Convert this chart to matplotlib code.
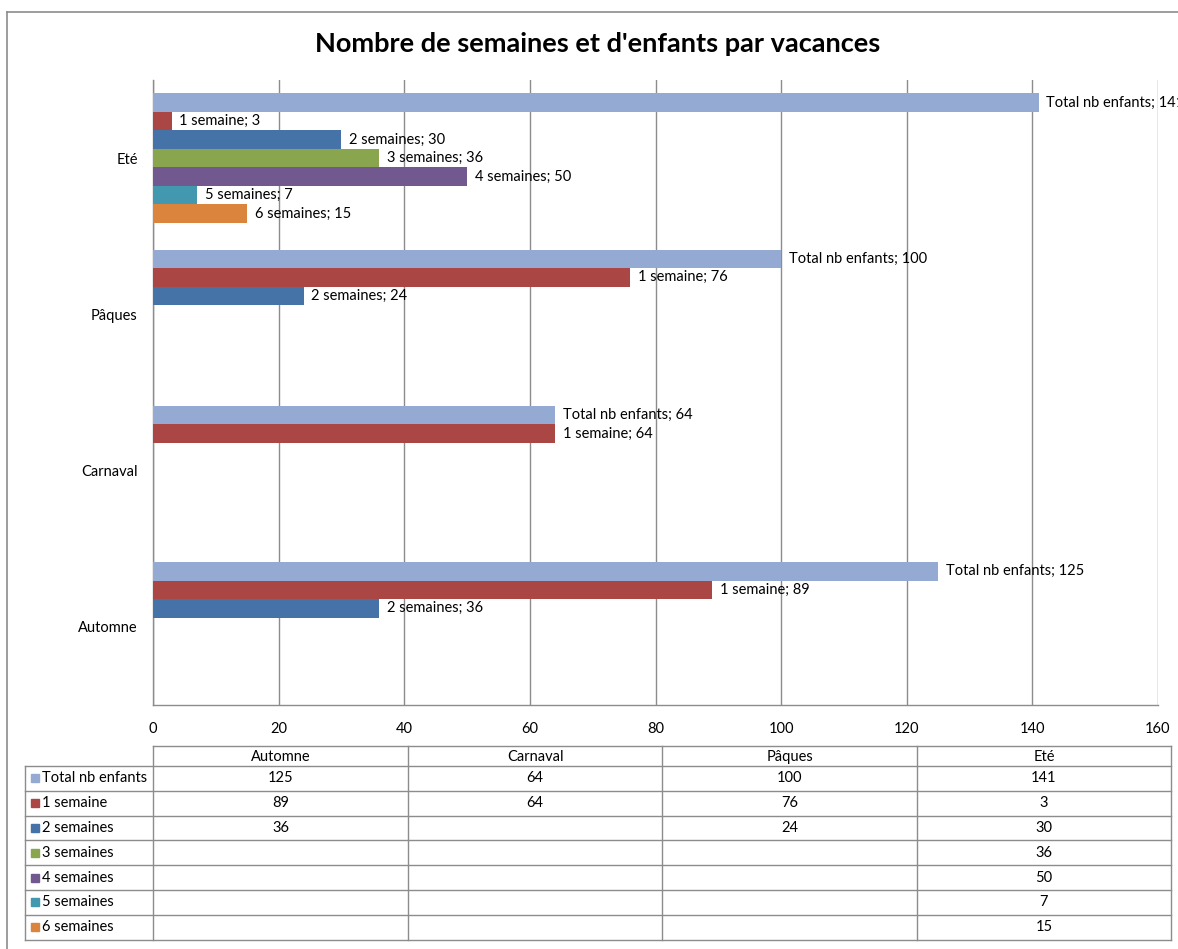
import numpy as np
import matplotlib
matplotlib.use("Agg")
import matplotlib.pyplot as plt
from matplotlib.lines import Line2D
from matplotlib.patches import Rectangle

plt.rcParams['font.family'] = ['Lato', 'DejaVu Sans']

title = "Nombre de semaines et d'enfants par vacances"
categories = ["Automne", "Carnaval", "Pâques", "Eté"]
series_names = ["Total nb enfants", "1 semaine", "2 semaines", "3 semaines",
                "4 semaines", "5 semaines", "6 semaines"]
total_nb = [125, 64, 100, 141]
sem1 = [89, 64, 76, 3]
sem2 = [36, None, 24, 30]
sem3 = [None, None, None, 36]
sem4 = [None, None, None, 50]
sem5 = [None, None, None, 7]
sem6 = [None, None, None, 15]
series_values = [total_nb, sem1, sem2, sem3, sem4, sem5, sem6]
colors = ["#95AAD2", "#AA4744", "#4572A7", "#89A54E", "#71588F", "#4198AF", "#DB843D"]
x_ticks = [0, 20, 40, 60, 80, 100, 120, 140, 160]

W, H = 1178, 949
fig = plt.figure(figsize=(W / 100, H / 100), dpi=100)

# pixel-coordinate overlay for frame and table
ov = fig.add_axes([0, 0, 1, 1], zorder=0)
ov.set_xlim(0, W)
ov.set_ylim(H, 0)
ov.axis('off')

grid_c = "#8C8C8C"
ov.add_line(Line2D([7, 7], [12, H], color=grid_c, lw=1.2))
ov.add_line(Line2D([7, W], [12, 12], color=grid_c, lw=1.2))

# main chart
px0, px1, py0, py1 = 153, 1158, 80, 705
ax = fig.add_axes([px0 / W, 1 - py1 / H, (px1 - px0) / W, (py1 - py0) / H], zorder=1)
ax.set_xlim(0, 160)
ax.set_ylim(-0.5, 3.5)
ax.set_facecolor('none')

fs = 10.5
n = len(series_names)
bh = 0.83 / n
y = np.arange(len(categories))
for i, (name, vals, c) in enumerate(zip(series_names, series_values, colors)):
    off = ((n - 1) / 2 - i) * bh
    for j, v in enumerate(vals):
        if v is None:
            continue
        ax.barh(y[j] + off, v, height=bh, color=c, zorder=3)
        ax.annotate(f"{name}; {v}", xy=(v, y[j] + off), xytext=(5.5, 0),
                    textcoords='offset points', va='center', ha='left',
                    fontsize=fs, color='black', zorder=4, annotation_clip=False,
                    clip_on=False)

ax.set_xticks(x_ticks)
ax.set_xticklabels([str(t) for t in x_ticks])
ax.set_yticks(y)
ax.set_yticklabels(categories)
ax.tick_params(axis='both', length=0, labelsize=fs, colors='black')
ax.tick_params(axis='x', pad=12)
ax.tick_params(axis='y', pad=11)
ax.grid(axis='x', color=grid_c, lw=1, zorder=0)
for s in ['top', 'right']:
    ax.spines[s].set_visible(False)
for s in ['left', 'bottom']:
    ax.spines[s].set_color(grid_c)
    ax.spines[s].set_linewidth(1)

fig.text(598 / W, 1 - 44 / H, title, ha='center', va='center',
         fontsize=19.5, fontweight='bold')

# data table
col_x = [153, 408, 662, 917, 1171]
lab_x0 = 25
hdr_top, hdr_bot = 746, 766
row_h = 24.8
row_tops = [hdr_bot + k * row_h for k in range(n + 1)]
tab_bot = row_tops[-1]
lw = 1
ov.add_line(Line2D([col_x[0], col_x[-1]], [hdr_top, hdr_top], color=grid_c, lw=lw))
for cx in col_x:
    ov.add_line(Line2D([cx, cx], [hdr_top, tab_bot], color=grid_c, lw=lw))
ov.add_line(Line2D([lab_x0, lab_x0], [hdr_bot, tab_bot], color=grid_c, lw=lw))
for yy in row_tops:
    ov.add_line(Line2D([lab_x0, col_x[-1]], [yy, yy], color=grid_c, lw=lw))
for j, cat in enumerate(categories):
    ov.text((col_x[j] + col_x[j + 1]) / 2, (hdr_top + hdr_bot) / 2 + 1, cat,
            ha='center', va='center', fontsize=fs)
for i, (name, vals, c) in enumerate(zip(series_names, series_values, colors)):
    yc = row_tops[i] + row_h / 2
    ov.add_patch(Rectangle((31, yc - 4), 8, 8, color=c))
    ov.text(42, yc, name, ha='left', va='center', fontsize=fs)
    for j, v in enumerate(vals):
        if v is None:
            continue
        ov.text((col_x[j] + col_x[j + 1]) / 2, yc, str(v), ha='center',
                va='center', fontsize=fs)

fig.savefig("out.png", dpi=100)
